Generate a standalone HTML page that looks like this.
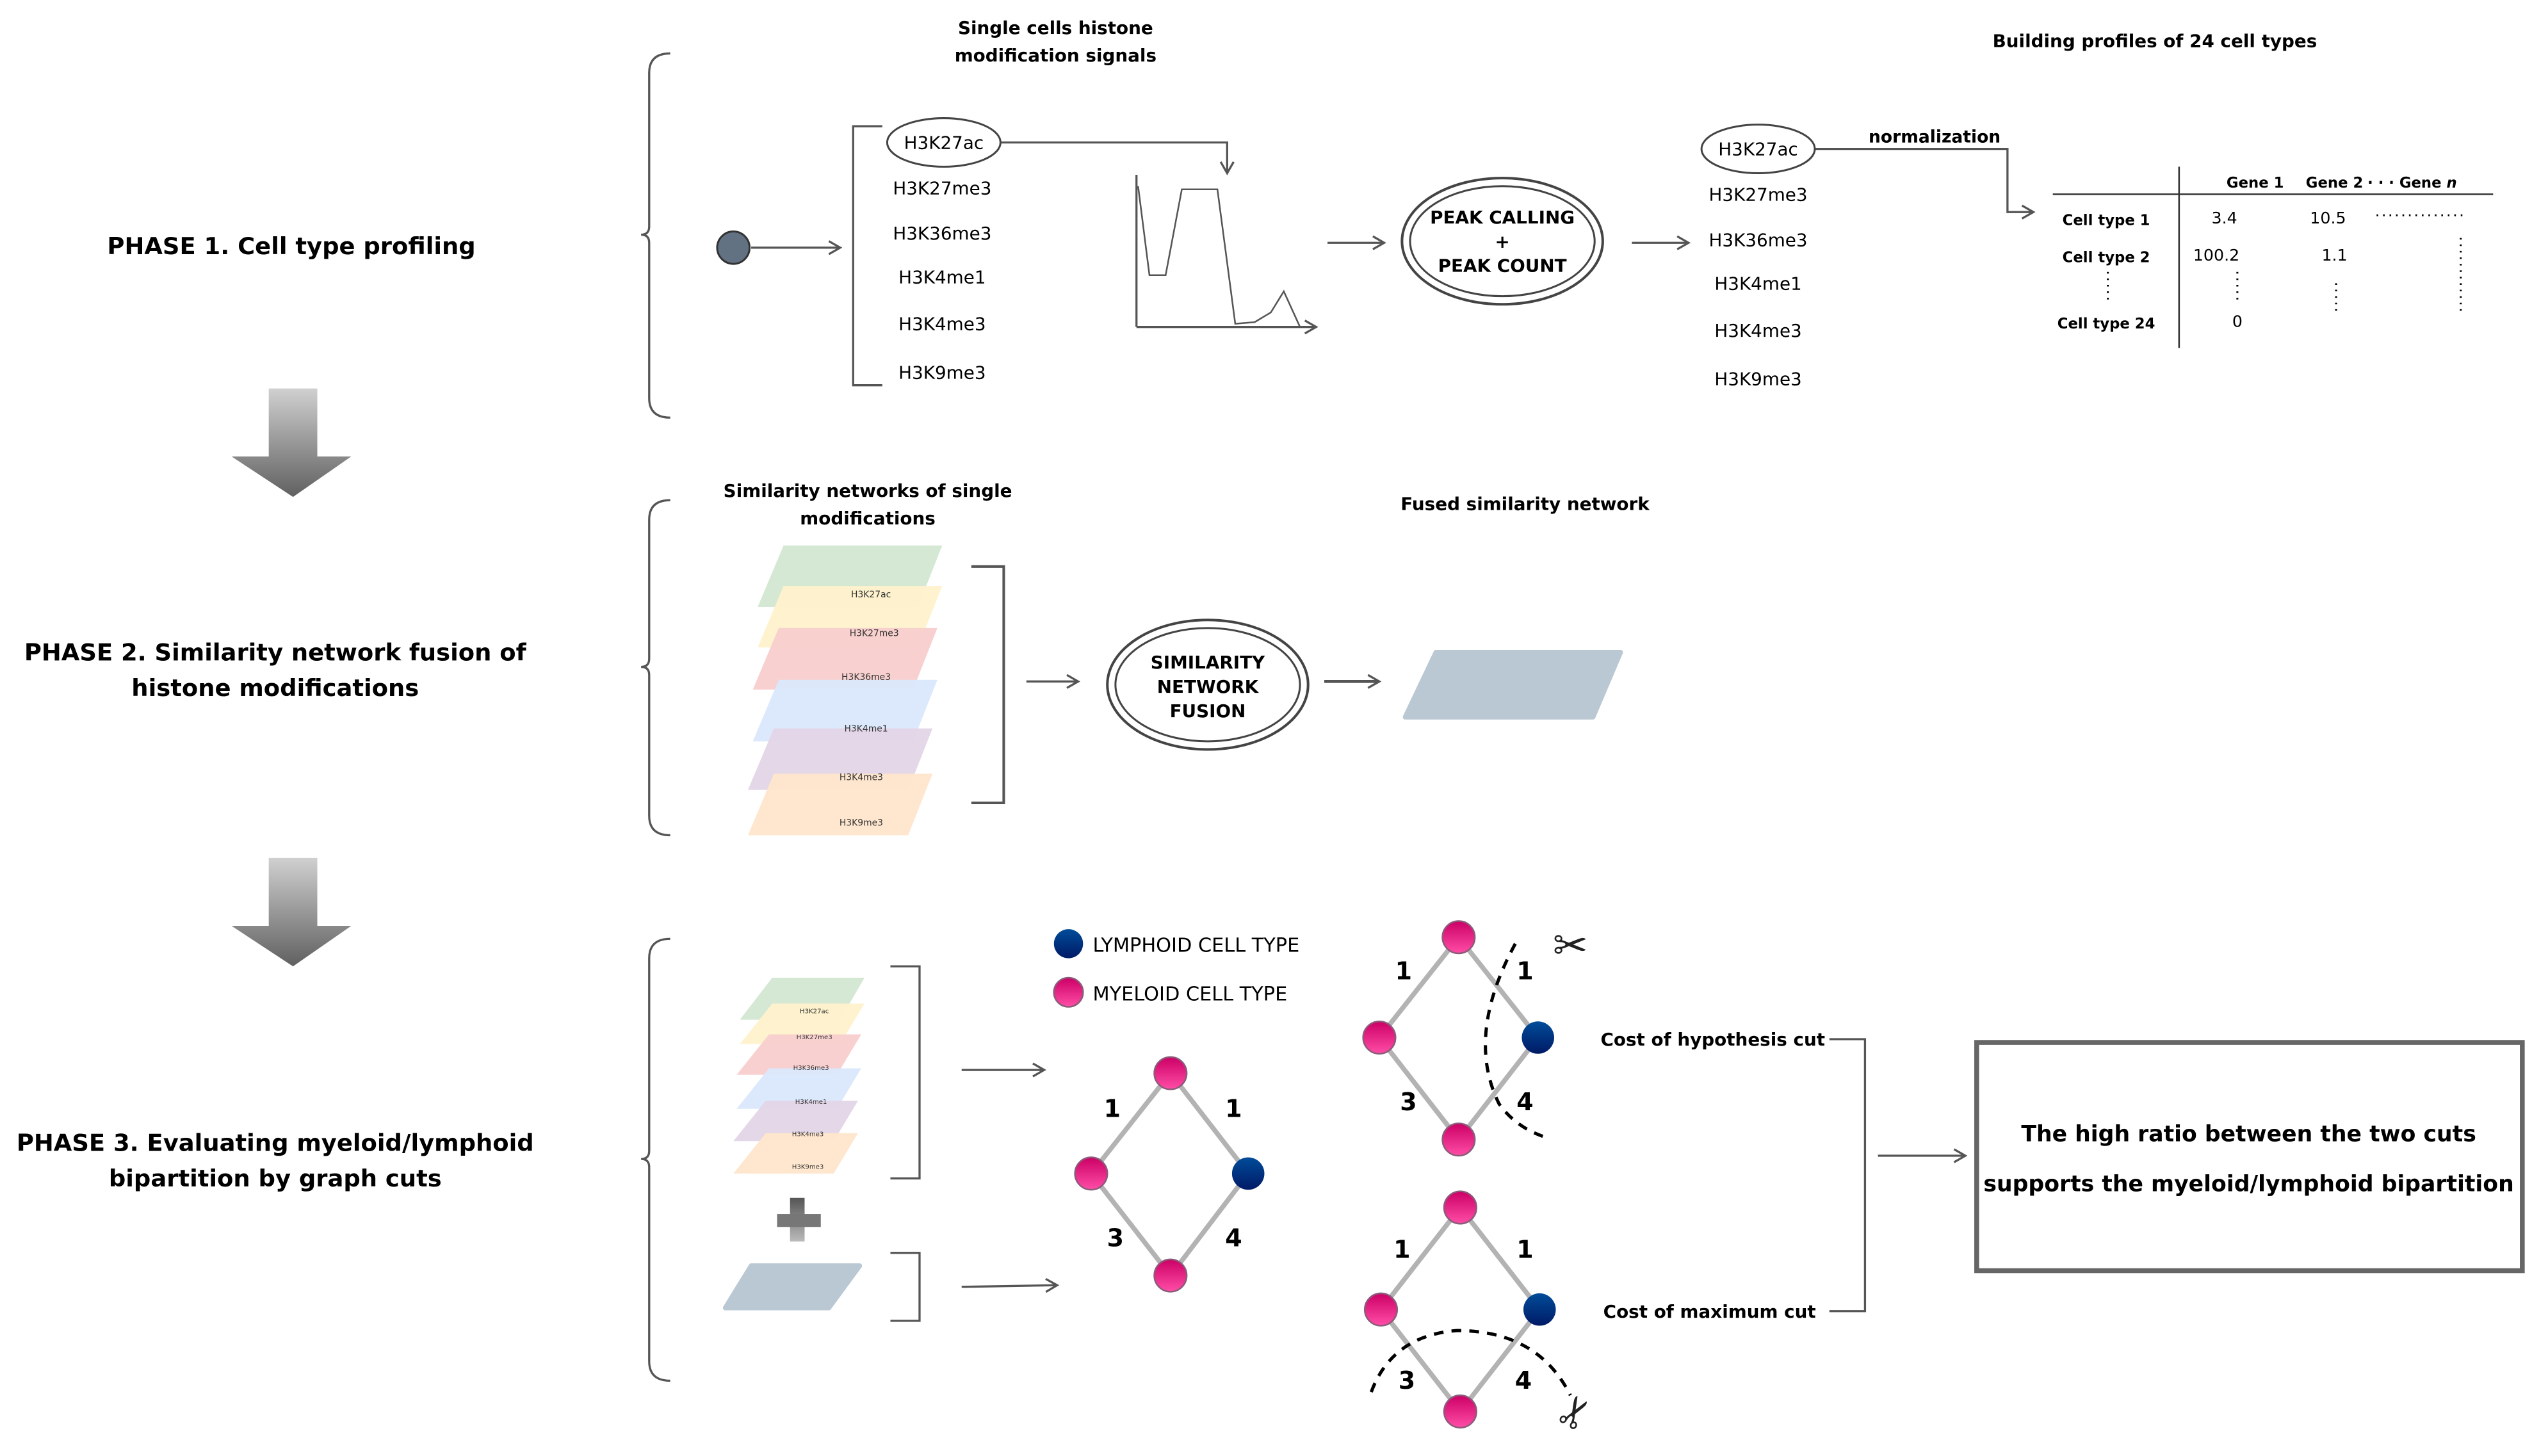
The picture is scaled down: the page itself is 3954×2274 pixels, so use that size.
<!DOCTYPE html>
<html><head><meta charset="utf-8"><style>html,body{margin:0;padding:0;background:#fff}svg{display:block}text{font-family:"DejaVu Sans","Liberation Sans",sans-serif}</style></head>
<body>
<svg width="3954" height="2274" viewBox="0 0 1564 899.5" preserveAspectRatio="none" xmlns="http://www.w3.org/2000/svg">
<defs>
<marker id="ah" markerWidth="10" markerHeight="10" refX="8" refY="5" orient="auto" markerUnits="userSpaceOnUse"><path d="M1,1 L8,5 L1,9" fill="none" stroke="#555" stroke-width="1.3"/></marker>
<linearGradient id="gArr" x1="0" y1="0" x2="0" y2="1"><stop offset="0" stop-color="#d0d0d0"/><stop offset="1" stop-color="#606060"/></linearGradient>
<linearGradient id="gPlus" x1="0" y1="0" x2="0" y2="1"><stop offset="0" stop-color="#555"/><stop offset="1" stop-color="#bbb"/></linearGradient>
<linearGradient id="gPink" x1="0" y1="0" x2="0" y2="1"><stop offset="0" stop-color="#cc0066"/><stop offset="1" stop-color="#ff4da6"/></linearGradient>
<linearGradient id="gBlue" x1="0" y1="0" x2="0" y2="1"><stop offset="0" stop-color="#004c99"/><stop offset="1" stop-color="#001a66"/></linearGradient>
</defs>
<g fill="none" stroke="#555" stroke-width="1.3">
<path d="M414,33 Q401,33 401,45 L401,140 Q401,145 396,145 Q401,145 401,150 L401,246 Q401,258 414,258"/>
<path d="M414,309 Q401,309 401,321 L401,407 Q401,412 396,412 Q401,412 401,417 L401,504 Q401,516 414,516"/>
<path d="M414,580 Q401,580 401,592 L401,711 Q401,716 396,716 Q401,716 401,721 L401,841 Q401,853 414,853"/>
<line x1="464" y1="153" x2="519" y2="153" marker-end="url(#ah)"/>
<path d="M545,78 L527,78 L527,238 L545,238"/>
<path d="M618,88 L758,88 L758,107" marker-end="url(#ah)"/>
<line x1="702" y1="108" x2="702" y2="202"/>
<line x1="702" y1="202" x2="813" y2="202" marker-end="url(#ah)"/>
<path d="M703,115 L710,170 L720,170 L730,117 L752,117 L763,200 L775,199 L785,193 L793,180 L803,202" stroke-width="1"/>
<line x1="820" y1="150" x2="855" y2="150" marker-end="url(#ah)"/>
<line x1="1008" y1="150" x2="1043" y2="150" marker-end="url(#ah)"/>
<path d="M1121,92 L1240,92 L1240,131 L1256,131" marker-end="url(#ah)"/>
<line x1="1268" y1="120" x2="1540" y2="120" stroke="#333" stroke-width="1"/>
<line x1="1346" y1="103" x2="1346" y2="215" stroke="#333" stroke-width="1"/>
<path d="M600,350 L620,350 L620,496 L600,496" stroke-width="1.6"/>
<line x1="634" y1="421" x2="666" y2="421" marker-end="url(#ah)"/>
<line x1="818" y1="421" x2="852" y2="421" marker-end="url(#ah)" stroke-width="1.8"/>
<path d="M550,597 L568,597 L568,728 L550,728"/>
<path d="M550,774 L568,774 L568,816 L550,816"/>
<line x1="594" y1="661" x2="645" y2="661" marker-end="url(#ah)"/>
<line x1="594" y1="795" x2="653" y2="794" marker-end="url(#ah)"/>
<path d="M1130,642 L1152,642 L1152,810 L1130,810"/>
<line x1="1160" y1="714" x2="1214" y2="714" marker-end="url(#ah)"/>
</g>
<g fill="none" stroke="#444" stroke-width="1.2">
<circle cx="453" cy="153" r="10" fill="#627283" stroke="#333"/>
<ellipse cx="583" cy="88" rx="35" ry="15"/>
<ellipse cx="1086" cy="92" rx="35" ry="15"/>
<ellipse cx="928" cy="149" rx="62" ry="39" stroke-width="1.6"/>
<ellipse cx="928" cy="149" rx="57" ry="34"/>
<ellipse cx="746" cy="423" rx="62" ry="40" stroke-width="1.6"/>
<ellipse cx="746" cy="423" rx="57" ry="35"/>
</g>
<path d="M166,240 L196,240 L196,282 L217,282 L181,307 L143,282 L166,282 Z" fill="url(#gArr)"/>
<path d="M166,530 L196,530 L196,572 L217,572 L181,597 L143,572 L166,572 Z" fill="url(#gArr)"/>
<g fill="#000" font-weight="bold" text-anchor="middle">
<text x="180" y="157" font-size="14.6">PHASE 1. Cell type profiling</text>
<text x="170" y="408" font-size="14.6">PHASE 2. Similarity network fusion of</text>
<text x="170" y="430" font-size="14.6">histone modifications</text>
<text x="170" y="711" font-size="14.6">PHASE 3. Evaluating myeloid/lymphoid</text>
<text x="170" y="733" font-size="14.6">bipartition by graph cuts</text>
<text x="652" y="21" font-size="11">Single cells histone</text>
<text x="652" y="38" font-size="11">modification signals</text>
<text x="1331" y="29" font-size="11">Building profiles of 24 cell types</text>
<text x="1195" y="88" font-size="10.5">normalization</text>
<text x="928" y="138" font-size="11">PEAK CALLING</text>
<text x="928" y="153" font-size="11">+</text>
<text x="928" y="168" font-size="11">PEAK COUNT</text>
<text x="536" y="307" font-size="11">Similarity networks of single</text>
<text x="536" y="324" font-size="11">modifications</text>
<text x="942" y="315" font-size="11">Fused similarity network</text>
<text x="746" y="413" font-size="11">SIMILARITY</text>
<text x="746" y="428" font-size="11">NETWORK</text>
<text x="746" y="443" font-size="11">FUSION</text>
<text x="1058" y="646" font-size="11">Cost of hypothesis cut</text>
<text x="1056" y="814" font-size="11">Cost of maximum cut</text>
<text x="1389" y="705" font-size="13.7">The high ratio between the two cuts</text>
<text x="1389" y="736" font-size="13.7">supports the myeloid/lymphoid bipartition</text>
</g>
<g fill="#000" font-size="11" text-anchor="middle">
<text x="583" y="92">H3K27ac</text>
<text x="582" y="120">H3K27me3</text>
<text x="582" y="148">H3K36me3</text>
<text x="582" y="175">H3K4me1</text>
<text x="582" y="204">H3K4me3</text>
<text x="582" y="234">H3K9me3</text>
<text x="1086" y="96">H3K27ac</text>
<text x="1086" y="124">H3K27me3</text>
<text x="1086" y="152">H3K36me3</text>
<text x="1086" y="179">H3K4me1</text>
<text x="1086" y="208">H3K4me3</text>
<text x="1086" y="238">H3K9me3</text>
</g>
<g fill="#000" font-size="9" font-weight="bold" text-anchor="middle">
<text x="1393" y="116">Gene 1</text>
<text x="1442" y="116">Gene 2</text>
<text x="1490" y="116">· · · Gene <tspan font-style="italic">n</tspan></text>
<text x="1301" y="139">Cell type 1</text>
<text x="1301" y="162">Cell type 2</text>
<text x="1301" y="203">Cell type 24</text>
</g>
<g fill="#000" font-size="10" text-anchor="middle">
<text x="1374" y="138">3.4</text>
<text x="1438" y="138">10.5</text>
<text x="1369" y="161">100.2</text>
<text x="1442" y="161">1.1</text>
<text x="1382" y="202">0</text>
</g>
<g stroke="#000" stroke-width="1.2" stroke-dasharray="1,3">
<line x1="1468" y1="133" x2="1522" y2="133"/>
<line x1="1302" y1="168" x2="1302" y2="186"/>
<line x1="1382" y1="168" x2="1382" y2="188"/>
<line x1="1443" y1="175" x2="1443" y2="193"/>
<line x1="1520" y1="147" x2="1520" y2="192"/>
</g>
<g stroke="none">
<path d="M484,337 L582,337 L567,375 L468,375 Z" fill="#d5e8d4"/>
<path d="M484,362 L582,362 L567,400 L468,400 Z" fill="#fff2cc" opacity="0.95"/>
<path d="M481,388 L579,388 L564,426 L465,426 Z" fill="#f8cecc" opacity="0.95"/>
<path d="M481,420 L579,420 L564,458 L465,458 Z" fill="#dae8fc" opacity="0.95"/>
<path d="M478,450 L576,450 L561,488 L462,488 Z" fill="#e1d5e7" opacity="0.95"/>
<path d="M478,478 L576,478 L561,516 L462,516 Z" fill="#ffe6cc" opacity="0.95"/>
<path d="M887,403 L1001,403 L984,443 L868,443 Z" fill="#bac8d3" stroke="#bac8d3" stroke-width="3" stroke-linejoin="round"/>
<path d="M477,604 L534,604 L519,630 L457,630 Z" fill="#d5e8d4"/>
<path d="M477,620 L534,620 L519,645 L457,645 Z" fill="#fff2cc" opacity="0.95"/>
<path d="M475,639 L532,639 L517,664 L455,664 Z" fill="#f8cecc" opacity="0.95"/>
<path d="M475,660 L532,660 L517,685 L455,685 Z" fill="#dae8fc" opacity="0.95"/>
<path d="M473,680 L530,680 L515,705 L453,705 Z" fill="#e1d5e7" opacity="0.95"/>
<path d="M473,700 L530,700 L515,725 L453,725 Z" fill="#ffe6cc" opacity="0.95"/>
<path d="M464,782 L531,782 L512,808 L448,808 Z" fill="#bac8d3" stroke="#bac8d3" stroke-width="3" stroke-linejoin="round"/>
</g>
<g font-size="5.5" fill="#333" text-anchor="middle">
<text x="538" y="369">H3K27ac</text>
<text x="540" y="393">H3K27me3</text>
<text x="535" y="420">H3K36me3</text>
<text x="535" y="452">H3K4me1</text>
<text x="532" y="482">H3K4me3</text>
<text x="532" y="510">H3K9me3</text>
</g>
<g font-size="4" fill="#333" text-anchor="middle">
<text x="503" y="626">H3K27ac</text>
<text x="503" y="642">H3K27me3</text>
<text x="501" y="661">H3K36me3</text>
<text x="501" y="682">H3K4me1</text>
<text x="499" y="702">H3K4me3</text>
<text x="499" y="722">H3K9me3</text>
</g>
<rect x="488" y="740" width="9" height="27" fill="url(#gPlus)"/>
<rect x="480" y="750" width="27" height="8" fill="#777"/>
<circle cx="660" cy="583" r="9" fill="url(#gBlue)"/>
<circle cx="660" cy="613" r="9" fill="url(#gPink)" stroke="#8c5a7a" stroke-width="1"/>
<text x="675" y="588" font-size="12" fill="#000">LYMPHOID CELL TYPE</text>
<text x="675" y="618" font-size="12" fill="#000">MYELOID CELL TYPE</text>
<g stroke="#b3b3b3" stroke-width="3" fill="none">
<path d="M723,663 L674,725 L723,788 L771,725 Z"/>
<path d="M901,579 L852,641 L901,704 L950,641 Z"/>
<path d="M902,746 L853,809 L902,872 L951,809 Z"/>
</g>
<g stroke="#8c5a7a" stroke-width="1" fill="url(#gPink)">
<circle cx="723" cy="663" r="10"/><circle cx="674" cy="725" r="10"/><circle cx="723" cy="788" r="10"/>
<circle cx="901" cy="579" r="10"/><circle cx="852" cy="641" r="10"/><circle cx="901" cy="704" r="10"/>
<circle cx="902" cy="746" r="10"/><circle cx="853" cy="809" r="10"/><circle cx="902" cy="872" r="10"/>
</g>
<g fill="url(#gBlue)">
<circle cx="771" cy="725" r="10"/><circle cx="950" cy="641" r="10"/><circle cx="951" cy="809" r="10"/>
</g>
<g font-size="15" font-weight="bold" fill="#000" text-anchor="middle">
<text x="687" y="690">1</text><text x="762" y="690">1</text><text x="689" y="770">3</text><text x="762" y="770">4</text>
<text x="867" y="605">1</text><text x="942" y="605">1</text><text x="870" y="686">3</text><text x="942" y="686">4</text>
<text x="866" y="777">1</text><text x="942" y="777">1</text><text x="869" y="858">3</text><text x="941" y="858">4</text>
</g>
<g stroke="#000" stroke-width="2" stroke-dasharray="6,5" fill="none">
<path d="M936,583 Q905,640 926,682 Q936,696 953,702"/>
<path d="M847,860 Q860,825 900,822 Q950,822 970,862"/>
</g>
<text x="970" y="593" font-size="26" fill="#222" text-anchor="middle">✂</text>
<text x="972" y="882" font-size="26" fill="#222" text-anchor="middle" transform="rotate(-60 972 872)">✂</text>
<rect x="1221" y="644" width="337" height="141" fill="none" stroke="#666" stroke-width="3"/>
</svg>
</body></html>
